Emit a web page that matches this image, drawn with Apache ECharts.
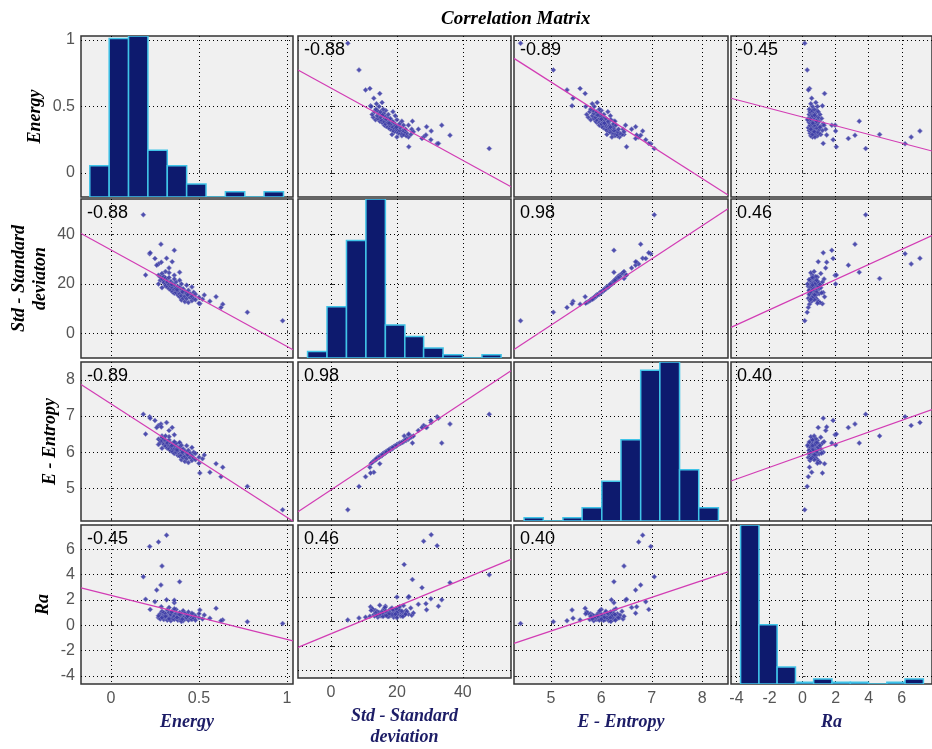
<!DOCTYPE html>
<html>
<head>
<meta charset="utf-8">
<title>Correlation Matrix</title>
<script src="https://cdn.jsdelivr.net/npm/echarts@6/dist/echarts.min.js"></script>
<style>
  html, body { margin: 0; padding: 0; background: #fff; }
  #chart { width: 932px; height: 749px; }
</style>
</head>
<body>
<div id="chart"></div>
<script>
// axis titles (the y one really says "deviaton" in the picture)
var yNames = ['Energy', 'Std - Standard\ndeviaton', 'E - Entropy', 'Ra'];
var xNames = ['Energy', 'Std - Standard\ndeviation', 'E - Entropy', 'Ra'];

// one value per sample, same order in every array
var energy = [0.975, 0.775, 0.635, 0.597, 0.625, 0.562, 0.505, 0.316, 0.27, 0.22, 0.29, 0.184, 0.39, 0.284, 0.26, 0.36,
  0.316, 0.223, 0.25, 0.33, 0.286, 0.36, 0.197, 0.348,
  0.27, 0.28, 0.28, 0.29, 0.29, 0.30, 0.30, 0.30, 0.31, 0.31, 0.31, 0.32, 0.32, 0.32, 0.33, 0.33, 0.33, 0.34, 0.34, 0.34,
  0.35, 0.35, 0.35, 0.36, 0.36, 0.36, 0.37, 0.37, 0.37, 0.38, 0.38, 0.38, 0.39, 0.39, 0.39, 0.40, 0.40, 0.40, 0.41, 0.41,
  0.41, 0.42, 0.42, 0.42, 0.43, 0.43, 0.44, 0.44, 0.44, 0.45, 0.45, 0.46, 0.46, 0.47, 0.47, 0.48, 0.48, 0.50, 0.50, 0.52,
  0.53, 0.27, 0.29, 0.33, 0.36, 0.39, 0.43, 0.46, 0.40, 0.31, 0.345, 0.375, 0.405, 0.435];
var stdDev = [5.1, 8.5, 11.8, 14.8, 10.5, 13.0, 12.0, 30.4, 28.1, 32.2, 22.2, 48.0, 24.7, 36.1, 27.6, 33.6,
  20.0, 32.6, 30.3, 26.5, 28.8, 23.5, 23.6, 29.0,
  23.5, 22.8, 21.5, 24.2, 22.0, 21.2, 23.0, 20.5, 22.4, 20.0, 19.2, 21.8, 20.8, 18.8, 22.6, 19.8, 18.0, 21.0, 19.0, 17.5,
  20.2, 18.5, 16.8, 19.5, 17.8, 16.2, 20.8, 18.2, 16.5, 19.0, 17.2, 15.5, 18.6, 16.0, 14.8, 17.8, 15.2, 13.5, 18.0, 16.4,
  14.2, 17.0, 15.0, 12.8, 16.2, 14.0, 17.4, 15.4, 12.5, 16.0, 14.5, 15.0, 13.2, 16.6, 14.0, 13.6, 15.8, 14.6, 12.2, 13.8,
  15.5, 20.0, 18.5, 24.5, 22.0, 21.5, 19.5, 18.8, 20.0, 25.0, 19.8, 17.6, 16.8, 15.6];
var entropy = [4.40, 5.05, 5.58, 5.68, 5.32, 5.44, 5.42, 6.82, 6.74, 6.98, 6.45, 7.05, 6.25, 6.78, 6.68, 6.25,
  6.20, 6.94, 6.88, 6.60, 6.70, 6.48, 6.50, 6.68,
  6.36, 6.32, 6.27, 6.41, 6.31, 6.25, 6.37, 6.21, 6.32, 6.19, 6.16, 6.28, 6.25, 6.11, 6.34, 6.17, 6.09, 6.24, 6.15, 6.04,
  6.22, 6.09, 6.01, 6.16, 6.08, 5.96, 6.24, 6.08, 6.00, 6.14, 6.04, 5.91, 6.13, 5.95, 5.89, 6.06, 5.91, 5.79, 6.09, 5.97,
  5.85, 6.03, 5.88, 5.74, 5.98, 5.82, 6.05, 5.90, 5.71, 5.97, 5.85, 5.90, 5.77, 6.00, 5.84, 5.79, 5.96, 5.86, 5.69, 5.82,
  5.92, 6.21, 6.11, 6.43, 6.29, 6.27, 6.18, 6.13, 6.19, 6.45, 6.18, 6.06, 6.00, 5.93];
var ra = [0.13, 0.28, 0.42, 1.33, 0.35, 0.55, 1.2, 7.1, 6.57, 6.2, 4.66, 3.82, 3.43, 3.17, 2.77, 1.77,
  2.0, 1.25, 1.85, 1.40, 1.46, 1.97, 2.04, 0.95,
  0.6, 0.9, 0.5, 1.1, 0.7, 0.45, 0.8, 1.0, 0.55, 0.65, 0.9, 0.4, 1.2, 0.7, 0.6, 0.5, 1.0, 0.75, 0.35, 0.85,
  0.6, 1.1, 0.5, 0.8, 0.45, 0.7, 0.9, 0.55, 1.25, 0.65, 0.4, 0.8, 0.5, 1.0, 0.6, 0.75, 0.45, 0.9, 0.6, 1.15,
  0.35, 0.7, 0.5, 0.95, 0.55, 0.8, 0.4, 0.65, 1.05, 0.5, 0.75, 0.6, 0.45, 0.85, 0.55, 0.7, 0.4, 0.6, 0.9, 0.5,
  0.8, 0.75, 0.6, 0.5, 1.3, 0.85, 0.6, 0.95, 0.3, 0.7, 1.05, 0.62, 0.48, 0.72];

// histograms on the diagonal: bin edges and bar heights
var energyEdges = [-0.12, -0.01, 0.10, 0.21, 0.32, 0.43, 0.54, 0.65, 0.76, 0.87, 0.98];
var energyCounts = [12, 61, 62, 18, 12, 5, 0, 2, 0, 2];
var stdEdges = [-7.1, -1.2, 4.7, 10.6, 16.5, 22.4, 28.1, 34.0, 39.9, 45.8, 51.6];
var stdCounts = [4, 31, 71, 96, 20, 13, 6, 2, 0, 2];
var entropyEdges = [4.47, 4.85, 5.24, 5.62, 6.01, 6.39, 6.78, 7.16, 7.55, 7.93, 8.32];
var entropyCounts = [2, 0, 2, 8, 24, 49, 91, 96, 31, 8];
var raEdges = [-3.75, -2.64, -1.54, -0.43, 0.67, 1.78, 2.89, 3.99, 5.10, 6.20, 7.31];
var raCounts = [94, 35, 10, 1, 3, 1, 1, 0, 1, 3];

// correlation printed in each panel (row, col)
var corrText = [
  ['', '-0.88', '-0.89', '-0.45'],
  ['-0.88', '', '0.98', '0.46'],
  ['-0.89', '0.98', '', '0.40'],
  ['-0.45', '0.46', '0.40', '']
];

// fitted lines: [intercept, slope] of row variable on column variable
var fitLines = [
  [null, [0.639, -0.01359], [1.896, -0.2422], [0.421, -0.0326]],
  [[33.75, -39.1], null, [-63.9, 13.44], [15.65, 3.06]],
  [[7.34, -3.15], [4.955, 0.0605], null, [5.906, 0.163]],
  [[2.36, -3.475], [-1.01, 0.1116], [-7.11, 1.33], null]
];

// tick labels
var energyTicks = [0, 0.5, 1];
var stdTicks = [0, 20, 40];
var entropyTicks = [5, 6, 7, 8];
var raTicks = [-4, -2, 0, 2, 4, 6];

var vars = [energy, stdDev, entropy, ra];
var edges = [energyEdges, stdEdges, entropyEdges, raEdges];
var counts = [energyCounts, stdCounts, entropyCounts, raCounts];
var ticks = [energyTicks, stdTicks, entropyTicks, raTicks];

// layout
var colLeft = [81, 298, 514, 731];
var colWidth = [212, 213, 214, 212];
var rowTop = [36, 199, 362, 525];
var rowHeight = [161, 159, 159, 159];
var xRange = [[-0.17, 1.034], [-10, 54.6], [4.27, 8.51], [-4.33, 7.83]];
var yRange = [[-0.18, 1.03], [-10, 54.4], [4.09, 8.5], [-4.63, 7.9]];
var yNameGap = [35, 30, 20, 27];

var serif = 'Liberation Serif, Times New Roman, serif';
var sans = 'Liberation Sans, Arial, sans-serif';

var chart = echarts.init(document.getElementById('chart'));

var grids = [], xAxes = [], yAxes = [], series = [], graphics = [];

var dotted = { show: true, lineStyle: { color: '#000', width: 1, type: [1, 3] } };

for (var r = 0; r < 4; r++) {
  for (var c = 0; c < 4; c++) {
    var g = r * 4 + c;
    grids.push({
      left: colLeft[c], top: rowTop[r], width: colWidth[c], height: rowHeight[r],
      show: true, backgroundColor: '#f0f0f0', borderColor: '#333', borderWidth: 1.5
    });
    xAxes.push({
      type: 'value', gridIndex: g, min: xRange[c][0], max: xRange[c][1],
      axisLine: { show: false },
      axisTick: { show: true, inside: true, length: 3, customValues: ticks[c], lineStyle: { color: '#333' } },
      splitLine: dotted,
      axisLabel: {
        show: r === 3, customValues: ticks[c], margin: 7,
        color: '#555', fontSize: 16, fontFamily: sans
      },
      name: r === 3 ? xNames[c] : '', nameLocation: 'middle', nameGap: 28,
      nameTextStyle: { color: '#1c1c66', fontSize: 18, fontFamily: serif, fontStyle: 'italic', fontWeight: 'bold', lineHeight: 21 }
    });
    yAxes.push({
      type: 'value', gridIndex: g, min: yRange[r][0], max: yRange[r][1],
      axisLine: { show: false },
      axisTick: { show: true, inside: true, length: 3, customValues: ticks[r], lineStyle: { color: '#333' } },
      splitLine: dotted,
      axisLabel: {
        show: c === 0, customValues: ticks[r], margin: 6,
        color: '#555', fontSize: 16, fontFamily: sans
      },
      name: c === 0 ? yNames[r] : '', nameLocation: 'middle', nameGap: yNameGap[r], nameRotate: 90,
      nameTextStyle: { color: '#000', fontSize: 18, fontFamily: serif, fontStyle: 'italic', fontWeight: 'bold', lineHeight: 21 }
    });

    if (r !== c) {
      var pts = [];
      for (var i = 0; i < vars[c].length; i++) pts.push([vars[c][i], vars[r][i]]);
      series.push({
        type: 'scatter', xAxisIndex: g, yAxisIndex: g, data: pts,
        symbol: 'diamond', symbolSize: 5,
        itemStyle: { color: '#3d3da6', borderColor: '#8a8ac8', borderWidth: 0.6, opacity: 0.9 },
        silent: true, z: 3
      });
      var fl = fitLines[r][c];
      var x0 = xRange[c][0], x1 = xRange[c][1];
      series.push({
        type: 'line', xAxisIndex: g, yAxisIndex: g,
        data: [[x0, fl[0] + fl[1] * x0], [x1, fl[0] + fl[1] * x1]],
        showSymbol: false, clip: true, silent: true,
        lineStyle: { color: '#d23cb4', width: 1.2 }, z: 4
      });
      graphics.push({
        type: 'text', left: colLeft[c] + 6, top: rowTop[r] + 5, z: 100,
        style: { text: corrText[r][c], fill: '#000', fontSize: 18, fontFamily: sans }
      });
    }
  }
}

// hidden count axes for the histograms
for (var d = 0; d < 4; d++) {
  var hb = [];
  for (var k = 0; k < counts[d].length; k++) hb.push([edges[d][k], edges[d][k + 1], counts[d][k]]);
  yAxes.push({
    type: 'value', gridIndex: d * 5, min: 0, max: Math.max.apply(null, counts[d]), show: false,
    splitLine: { show: false }
  });
  series.push({
    type: 'custom', xAxisIndex: d * 5, yAxisIndex: 16 + d, data: hb, clip: true, silent: true,
    renderItem: function (params, api) {
      var p0 = api.coord([api.value(0), api.value(2)]);
      var p1 = api.coord([api.value(1), 0]);
      return {
        type: 'rect',
        shape: { x: p0[0], y: p0[1], width: p1[0] - p0[0], height: p1[1] - p0[1] },
        style: { fill: '#0d1a6e', stroke: '#40c4e8', lineWidth: 1.5 }
      };
    }
  });
}

chart.setOption({
  animation: false,
  backgroundColor: '#fff',
  title: {
    text: 'Correlation Matrix', left: 436, top: 5,
    textStyle: { color: '#000', fontSize: 19, fontFamily: serif, fontStyle: 'italic', fontWeight: 'bold' }
  },
  grid: grids,
  xAxis: xAxes,
  yAxis: yAxes,
  series: series,
  graphic: graphics
});
</script>
</body>
</html>
